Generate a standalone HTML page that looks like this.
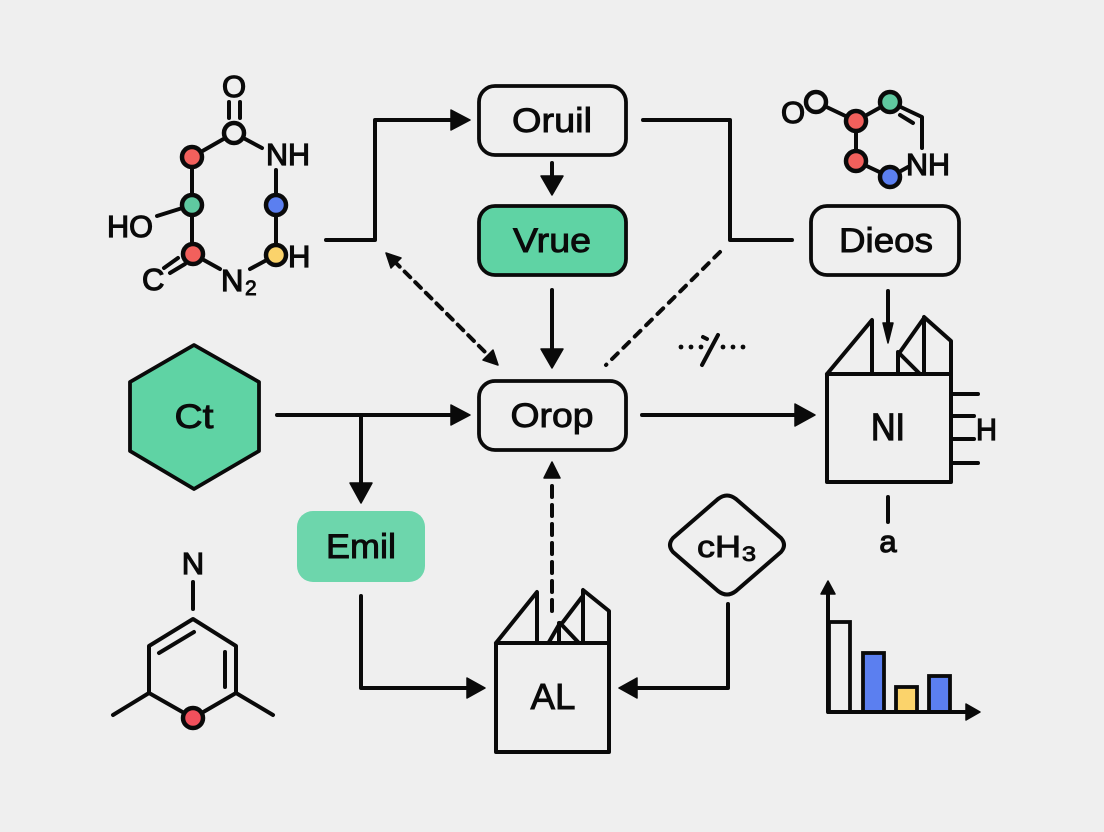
<!DOCTYPE html>
<html lang="en">
<head>
<meta charset="utf-8">
<title>Diagram</title>
<style>
html,body{margin:0;padding:0;background:#efefef;}
svg{display:block;}
text{font-family:"Liberation Sans",sans-serif;fill:#0a0a0a;stroke:#0a0a0a;stroke-width:.9px;}
.l{fill:none;stroke:#0a0a0a;stroke-width:4;stroke-linecap:round;stroke-linejoin:round;}
.n{stroke:#0a0a0a;stroke-width:4.5;}
.b{stroke:#0a0a0a;stroke-width:3.8;}
.h{fill:#0a0a0a;stroke:#0a0a0a;stroke-width:1.5;stroke-linejoin:round;}
.m{font-size:34px;text-anchor:middle;}
.c{font-size:31px;stroke-width:1.2px;}
</style>
</head>
<body>
<svg width="1104" height="832" viewBox="0 0 1104 832" xmlns="http://www.w3.org/2000/svg">
<rect width="1104" height="832" fill="#efefef"/>

<!-- Top-left molecule -->
<path class="l" d="M229 102V118M240 102V118M234 133L192 157V254M234 133L262 148M157 216L192 205M193 254L220 269M250 269L276 255V205V170M164 268L178 258M170 273L185 264"/>
<circle class="n" cx="234" cy="133" r="10" fill="#efefef"/>
<circle class="n" cx="192" cy="157" r="10" fill="#f2605c"/>
<circle class="n" cx="192" cy="205" r="10" fill="#5fc9a0"/>
<circle class="n" cx="193" cy="254" r="10" fill="#f2605c"/>
<circle class="n" cx="276" cy="205" r="10" fill="#5b7ff0"/>
<circle class="n" cx="276" cy="255" r="10" fill="#fbd36b"/>
<text class="c" x="222" y="97">O</text>
<text class="c" x="266" y="165" textLength="44" lengthAdjust="spacingAndGlyphs">NH</text>
<text class="c" x="107" y="237" textLength="46" lengthAdjust="spacingAndGlyphs">HO</text>
<text class="c" x="142" y="290">C</text>
<text class="c" x="221" y="291">N</text>
<text x="245" y="295" font-size="21">2</text>
<text class="c" x="288" y="267">H</text>

<!-- Top-right molecule -->
<path class="l" d="M816 102L856 121L890 102L922 117V148M900 115L913 123M856 121V161L890 177L908 167"/>
<circle class="n" cx="816" cy="102" r="10" fill="#efefef"/>
<circle class="n" cx="856" cy="121" r="10" fill="#f2605c"/>
<circle class="n" cx="890" cy="102" r="10" fill="#5fc9a0"/>
<circle class="n" cx="856" cy="161" r="10" fill="#f2605c"/>
<circle class="n" cx="890" cy="177" r="10" fill="#5b7ff0"/>
<text class="c" x="781" y="123">O</text>
<text class="c" x="906" y="175" textLength="44" lengthAdjust="spacingAndGlyphs">NH</text>

<!-- Nodes -->
<rect class="b" x="479" y="86" width="147" height="69" rx="16" fill="#efefef"/>
<text class="m" x="552" y="132" textLength="80" lengthAdjust="spacingAndGlyphs">Oruil</text>
<rect class="b" x="479" y="206" width="147" height="69" rx="16" fill="#5fd3a4"/>
<text class="m" x="552" y="252" textLength="78" lengthAdjust="spacingAndGlyphs">Vrue</text>
<rect class="b" x="479" y="381" width="147" height="69" rx="16" fill="#efefef"/>
<text class="m" x="552" y="427" textLength="83" lengthAdjust="spacingAndGlyphs">Orop</text>
<rect class="b" x="811" y="206" width="148" height="69" rx="16" fill="#efefef"/>
<text class="m" x="886" y="252" textLength="94" lengthAdjust="spacingAndGlyphs">Dieos</text>
<rect x="297" y="511" width="128" height="71" rx="16" fill="#6dd6ac"/>
<text class="m" x="361" y="558" textLength="70" lengthAdjust="spacingAndGlyphs">Emil</text>
<polygon class="b" points="194,345 259,382 259,451 194,489 130,451 130,382" fill="#5fd3a4" stroke-linejoin="round"/>
<text class="m" x="194" y="428" textLength="39" lengthAdjust="spacingAndGlyphs">Ct</text>
<path class="l" d="M718 499Q727 492 736 499L781 538Q787 545 781 552L736 591Q727 598 718 591L673 552Q667 545 673 538Z"/>
<text x="697" y="557" font-size="31" textLength="44" lengthAdjust="spacingAndGlyphs">cH</text>
<text x="742" y="561" font-size="21" textLength="14" lengthAdjust="spacingAndGlyphs">3</text>

<!-- Connectors -->
<path class="l" d="M326 240H375V120H452"/>
<polygon class="h" points="470,120 451,110 451,130"/>
<path class="l" d="M552 163V178"/>
<polygon class="h" points="552,195 541,176 563,176"/>
<path class="l" d="M643 120H730V240H792"/>
<path class="l" stroke-dasharray="8 8" stroke-linecap="butt" d="M720 252L606 365"/>
<path class="l" d="M552 290V350"/>
<polygon class="h" points="552,368 541,349 563,349"/>
<path class="l" stroke-dasharray="8 7" stroke-linecap="butt" d="M394 261L490 357"/>
<polygon class="h" points="386,253 401,258 391,268"/>
<polygon class="h" points="498,365 483,360 493,350"/>
<path class="l" d="M277 415H452"/>
<polygon class="h" points="470,415 451,405 451,425"/>
<path class="l" d="M361 415V484"/>
<polygon class="h" points="361,503 350,483 372,483"/>
<path class="l" d="M642 415H796"/>
<polygon class="h" points="815,415 795,404 795,426"/>
<path class="l" d="M361 596V688H468"/>
<polygon class="h" points="485,688 467,678 467,698"/>
<path class="l" d="M728 604V688H636"/>
<polygon class="h" points="619,688 637,678 637,698"/>
<path class="l" stroke-dasharray="11 8" stroke-linecap="butt" d="M552 611V478"/>
<polygon class="h" points="552,462 544,478 560,478"/>

<!-- Dotted break mark -->
<path class="l" d="M702 365L718 335M703 337L707 339"/>
<g fill="#0a0a0a"><circle cx="681" cy="347" r="2.4"/><circle cx="691" cy="347" r="2.4"/><circle cx="701" cy="347" r="2.4"/><circle cx="723" cy="347" r="2.4"/><circle cx="733" cy="347" r="2.4"/><circle cx="743" cy="347" r="2.4"/></g>

<!-- NI block -->
<path class="l" d="M827 374H951V482H827ZM827 374L872 320V374M951 374V341L924 317V374M898 374V352L920 374M900 352L924 318"/>
<path class="l" d="M888 291V325"/>
<polygon class="h" points="888,343 883,323 893,323"/>
<path class="l" d="M951 394H978M951 416H974M951 439H974M951 463H978M888 497V522"/>
<text class="m" x="888" y="440" textLength="34" lengthAdjust="spacingAndGlyphs" style="font-size:38px;stroke-width:1.3px">NI</text>
<text x="976" y="440" font-size="31" textLength="21" lengthAdjust="spacingAndGlyphs" style="stroke-width:1.2px">H</text>
<text class="m" x="888" y="552" style="font-size:31px;stroke-width:1.2px">a</text>

<!-- AL block -->
<path class="l" d="M496 643H609V752H496ZM496 643L537 592V643M609 643V611L583 590V643M549 642L560 623L578 642M559 623V643M563 622L582 597"/>
<text class="m" x="553" y="709" textLength="45" lengthAdjust="spacingAndGlyphs" style="font-size:36px">AL</text>

<!-- Bottom-left molecule -->
<path class="l" d="M193 582V609M193 718L236 693V646L193 619L149 646V693L193 718M159 653L194 632M225 652V687M149 693L113 715M236 693L273 715"/>
<circle class="n" cx="193" cy="718" r="10" fill="#f2505c"/>
<text class="c" x="193" y="574" text-anchor="middle">N</text>

<!-- Bar chart -->
<rect class="b" x="829" y="622" width="21" height="90" fill="#efefef"/>
<rect class="b" x="863" y="653" width="21" height="59" fill="#5b7ff0"/>
<rect class="b" x="896" y="687" width="21" height="25" fill="#fbd36b"/>
<rect class="b" x="929" y="676" width="21" height="36" fill="#5b7ff0"/>
<path class="l" d="M828 592V712H968"/>
<polygon class="h" points="828,581 821,594 835,594"/>
<polygon class="h" points="980,712 966,704 966,720"/>
</svg>
</body>
</html>
